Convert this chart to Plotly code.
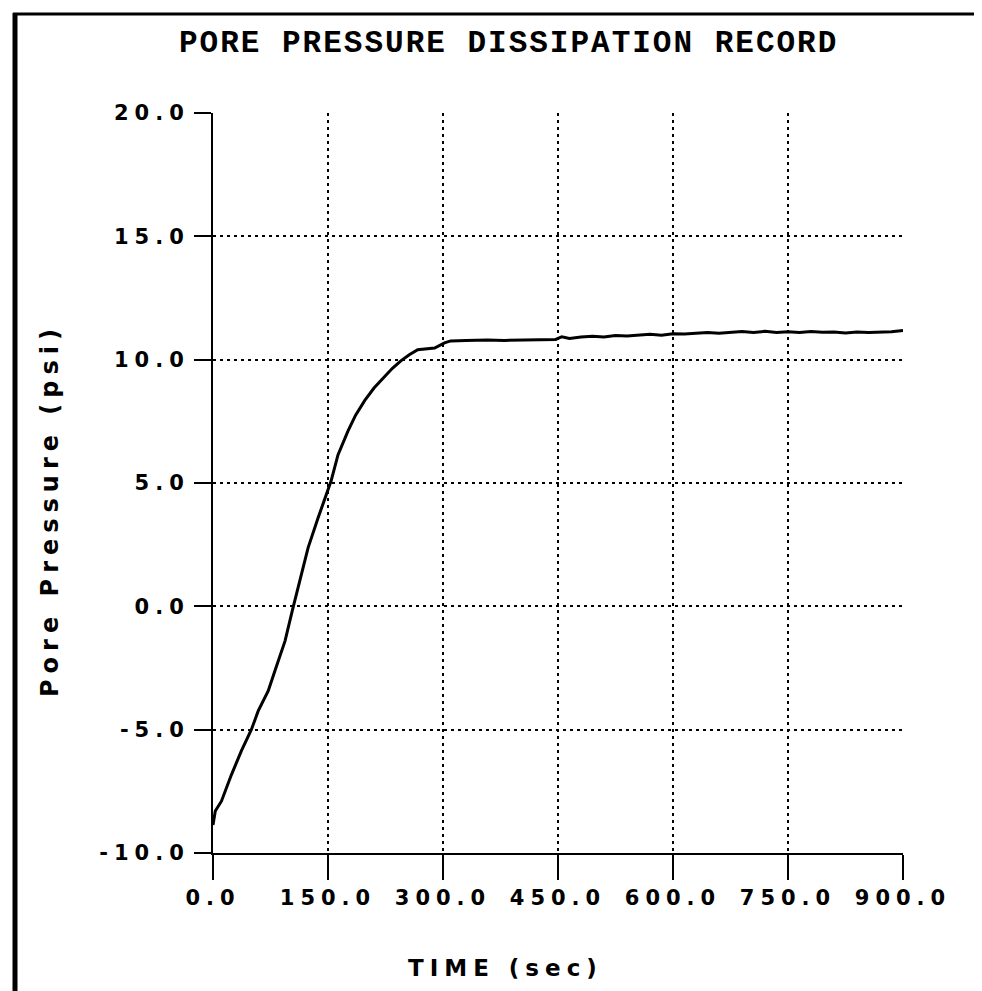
import plotly.graph_objects as go

# ---- data ----
time_sec = [0, 3, 11, 24, 37, 50, 59, 72, 82, 94, 104, 114, 124, 137, 147, 154, 163, 176,
            186, 198, 210, 222, 234, 245, 256, 267, 289, 302, 310, 330, 358, 380, 400, 420,
            447, 455, 465, 480, 495, 510, 525, 540, 555, 570, 585, 600, 615, 630, 645, 660,
            675, 690, 705, 720, 735, 750, 765, 780, 795, 810, 825, 840, 855, 870, 885, 900]
pore_pressure = [-8.86, -8.3, -7.9, -6.83, -5.86, -5.0, -4.24, -3.43, -2.5, -1.4, -0.1, 1.1,
                 2.37, 3.58, 4.5, 5.08, 6.14, 7.1, 7.75, 8.35, 8.85, 9.25, 9.65, 9.95, 10.2,
                 10.4, 10.47, 10.68, 10.76, 10.78, 10.8, 10.78, 10.8, 10.82, 10.82, 10.93,
                 10.86, 10.92, 10.95, 10.92, 10.98, 10.96, 11.0, 11.03, 10.99, 11.05, 11.04,
                 11.06, 11.1, 11.07, 11.12, 11.14, 11.1, 11.15, 11.1, 11.13, 11.1, 11.14,
                 11.11, 11.12, 11.08, 11.12, 11.1, 11.11, 11.13, 11.18]

x_ticks = [0, 150, 300, 450, 600, 750, 900]
x_tick_labels = ["0.0", "150.0", "300.0", "450.0", "600.0", "750.0", "900.0"]
y_ticks = [-10, -5, 0, 5, 10, 15, 20]
y_tick_labels = ["-10.0", "-5.0", "0.0", "5.0", "10.0", "15.0", "20.0"]

title_text = "PORE PRESSURE DISSIPATION RECORD"
x_title = "TIME (sec)"
y_title = "Pore Pressure (psi)"

W, H = 982, 991
L, R, T, B = 205, 87, 105, 146
PW, PH = W - L - R, H - T - B


def wide(s, px):
    return '<span style="letter-spacing:%dpx">%s</span>' % (px, s)


def px_x(x):
    return (x - L) / PW


def px_y(y):
    return 1 - (y - T) / PH


fig = go.Figure()
fig.add_trace(go.Scatter(x=time_sec, y=pore_pressure, mode="lines",
                         line=dict(color="black", width=3), showlegend=False))

tick_font = dict(family="DejaVu Sans", size=21, color="black", weight="bold")

fig.update_layout(
    width=W, height=H,
    margin=dict(l=L, r=R, t=T, b=B),
    paper_bgcolor="white", plot_bgcolor="white",
    xaxis=dict(range=[0, 900], tickvals=x_ticks, ticktext=[wide(s, 6) for s in x_tick_labels],
               showgrid=True, gridcolor="black", gridwidth=2, griddash="3px,4px",
               showline=True, linecolor="black", linewidth=2, mirror=False,
               ticks="outside", ticklen=25, tickwidth=2, tickcolor="black",
               tickfont=tick_font, zeroline=False, fixedrange=True),
    yaxis=dict(range=[-10, 20], tickvals=y_ticks, ticktext=[wide(s, 6) for s in y_tick_labels],
               showgrid=True, gridcolor="black", gridwidth=2, griddash="3px,4px",
               showline=True, linecolor="black", linewidth=2, mirror=False,
               ticks="outside", ticklen=17, tickwidth=2, tickcolor="black",
               tickfont=tick_font, zeroline=False, fixedrange=True),
    annotations=[
        dict(text=wide(title_text, 2), xref="paper", yref="paper",
             x=px_x(500), y=px_y(36),
             xanchor="center", yanchor="middle", showarrow=False,
             font=dict(family="Liberation Mono", size=31, color="black", weight="bold")),
        dict(text=wide(x_title, 6), xref="paper", yref="paper",
             x=px_x(497), y=px_y(960),
             xanchor="center", yanchor="middle", showarrow=False,
             font=dict(family="DejaVu Sans", size=23, color="black", weight="bold")),
        dict(text=wide(y_title, 6), xref="paper", yref="paper", textangle=-90,
             x=px_x(42), y=px_y(502),
             xanchor="center", yanchor="middle", showarrow=False,
             font=dict(family="DejaVu Sans", size=24, color="black", weight="bold")),
    ],
    shapes=[
        dict(type="line", xref="paper", yref="paper", x0=px_x(7), x1=px_x(7),
             y0=px_y(5), y1=px_y(H), line=dict(color="black", width=5)),
        dict(type="line", xref="paper", yref="paper", x0=px_x(5), x1=px_x(W - 2),
             y0=px_y(6), y1=px_y(6), line=dict(color="black", width=3)),
        dict(type="line", xref="paper", yref="paper", x0=px_x(W - 5), x1=px_x(W - 5),
             y0=px_y(5), y1=px_y(H), line=dict(color="black", width=2)),
    ],
)

fig.write_html("out.html")
